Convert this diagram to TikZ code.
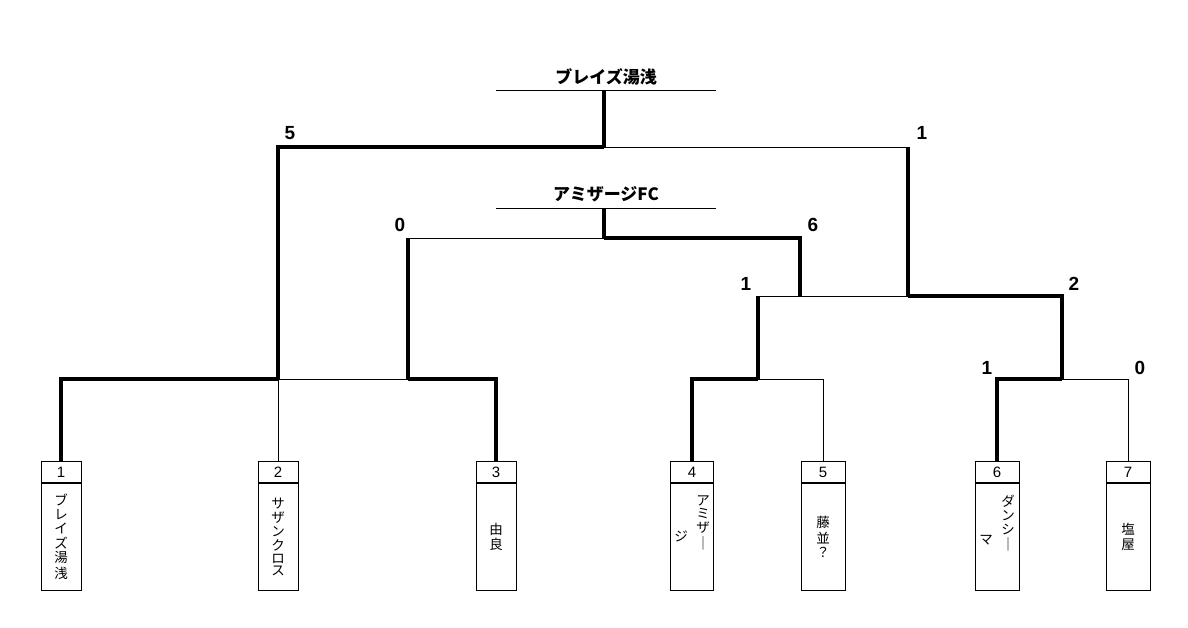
\documentclass[tikz,border=0pt]{standalone}
\usepackage{fontspec}
\setmainfont{Liberation Sans}
\newfontfamily\jp{Noto Sans CJK JP}
\begin{document}
\begin{tikzpicture}[x=1pt,y=-1pt,line join=miter]
  \tikzstyle{win}=[line width=3.6pt]
  \tikzstyle{lose}=[line width=0.7pt]
  \tikzstyle{score}=[font=\bfseries\fontsize{19}{19}\selectfont]
  \tikzstyle{title}=[font=\jp\bfseries\fontsize{17}{17}\selectfont]
  \tikzstyle{vtext}=[font=\jp\fontsize{13.5}{17}\selectfont,inner sep=0pt]
  \tikzstyle{namebox}=[draw,line width=0.7pt,minimum width=40pt,minimum height=107pt,inner sep=0pt,anchor=north,font=\jp\fontsize{13.5}{17}\selectfont]
  \tikzstyle{numbox}=[draw,line width=0.7pt,minimum width=40pt,minimum height=21pt,inner sep=0pt,anchor=south,font=\fontsize{15}{15}\selectfont]
  \useasboundingbox (0,0) rectangle (1188,627);
  % team boxes
  \node[namebox] (T_1) at (61,483)   {\shortstack{ブ\\レ\\イ\\ズ\\湯\\浅}};
  \node[namebox] (T_2) at (278,483)  {\shortstack{サ\\ザ\\ン\\ク\\ロ\\ス}};
  \node[namebox] (T_3) at (496,483)  {\shortstack{由\\良}};
  \node[namebox,minimum width=43pt] (T_4) at (692,483) {};
  \node[namebox,minimum width=44pt] (T_5) at (823,483) {\shortstack{藤\\並\\？}};
  \node[namebox,minimum width=44pt] (T_6) at (997,483) {};
  \node[namebox,minimum width=44pt] (T_7) at (1128,483) {\shortstack{塩\\屋}};
  \node[vtext,anchor=north] (V_4) at (703,495) {\shortstack{ア\\ミ\\ザ\\｜}};
  \node[vtext] (V_4b) at (681,536) {ジ};
  \node[vtext,anchor=north] (V_6) at (1008,495) {\shortstack{ダ\\ン\\シ\\｜}};
  \node[vtext] (V_6b) at (986,540) {マ};
  \foreach \i/\w in {1/40,2/40,3/40,4/43,5/44,6/44,7/44}
    \node[numbox,minimum width=\w pt] (N_\i) at (T_\i.north) {\i};
  % junctions
  \coordinate (A) at (278,379);
  \coordinate (B) at (408,379);
  \coordinate (C) at (758,379);
  \coordinate (D) at (1062,379);
  \coordinate (E) at (800,296);
  \coordinate (F) at (908,296);
  \coordinate (G) at (604,238);
  \coordinate (H) at (604,147);
  \coordinate (C') at (758,296);
  \coordinate (B') at (408,238);
  % first round
  \draw[win] (N_1.north) |- (A);
  \draw[lose] (N_2.north) -- (A) -- (B);
  \draw[win] (N_3.north) |- (B);
  \draw[win] (N_4.north) |- (C);
  \draw[lose] (N_5.north) |- (C);
  \draw[win] (N_6.north) |- (D);
  \draw[lose] (N_7.north) |- (D);
  % second round
  \draw[win] (C) -- (C');
  \draw[lose] (C') -- (F);
  \draw[win] (D) |- (F);
  \draw[win] (B) -- (B');
  \draw[lose] (B') -- (G);
  \draw[win] (E) |- (G);
  \draw[win] (G) -- (604,208);
  % final
  \draw[win] (A) |- (H);
  \draw[lose] (H) -| (F);
  \draw[win] (F) -- (908,147);
  \draw[win] (H) -- (604,90);
  % title lines
  \draw[lose] (496,208) -- (716,208);
  \draw[lose] (496,90) -- (716,90);
  \node[title] (W_1) at (606,77)  {ブレイズ湯浅};
  \node[title] (W_2) at (606,194) {アミザージFC};
  % scores
  \node[score] at (290,133)  {5};
  \node[score] at (922,133)  {1};
  \node[score] at (400,225)  {0};
  \node[score] at (813,225)  {6};
  \node[score] at (746,284)  {1};
  \node[score] at (1074,284) {2};
  \node[score] at (987,368)  {1};
  \node[score] at (1140,368) {0};
\end{tikzpicture}
\end{document}
